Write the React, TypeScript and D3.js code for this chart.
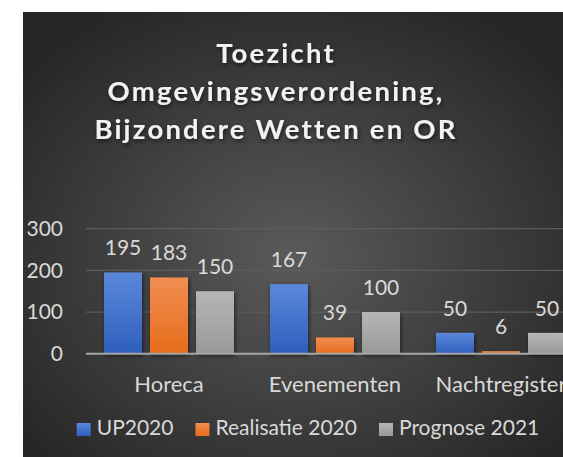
import React, { useEffect, useRef } from 'react';
import * as d3 from 'd3';

const categories = ['Horeca', 'Evenementen', 'Nachtregister'];
const series = ['UP2020', 'Realisatie 2020', 'Prognose 2021'];
const up2020 = [195, 167, 50];
const realisatie2020 = [183, 39, 6];
const prognose2021 = [150, 100, 50];
const yTicks = [0, 100, 200, 300];
const titleLines = ['Toezicht', 'Omgevingsverordening,', 'Bijzondere Wetten en OR'];

const colors = [
  ['#5b88da', '#2e5fbe'],
  ['#f28d52', '#e66d1b'],
  ['#b6b6b6', '#999999'],
];

const FONT = 'Lato, "Open Sans", sans-serif';

function App() {
  const ref = useRef<SVGSVGElement>(null);

  useEffect(() => {
    const svg = d3.select(ref.current);
    svg.selectAll('*').remove();
    const W = 563, H = 457;
    const values = [up2020, realisatie2020, prognose2021];

    const defs = svg.append('defs');
    const bg = defs.append('radialGradient').attr('id', 'bg')
      .attr('cx', '50%').attr('cy', '55%').attr('r', '65%');
    bg.append('stop').attr('offset', '0%').attr('stop-color', '#5a5a5a');
    bg.append('stop').attr('offset', '100%').attr('stop-color', '#262626');
    colors.forEach((c, i) => {
      const g = defs.append('linearGradient').attr('id', 'bar' + i)
        .attr('x1', 0).attr('y1', 0).attr('x2', 0).attr('y2', 1);
      g.append('stop').attr('offset', '0%').attr('stop-color', c[0]);
      g.append('stop').attr('offset', '100%').attr('stop-color', c[1]);
    });
    const sh = defs.append('filter').attr('id', 'shadow')
      .attr('x', '-20%').attr('y', '-20%').attr('width', '140%').attr('height', '140%');
    sh.append('feDropShadow').attr('dx', 1).attr('dy', 2).attr('stdDeviation', 2)
      .attr('flood-color', '#000').attr('flood-opacity', 0.6);

    svg.append('rect').attr('width', W).attr('height', H).attr('fill', '#ffffff');
    svg.append('rect').attr('x', 23).attr('y', 12).attr('width', W - 23).attr('height', H - 12)
      .attr('fill', 'url(#bg)');

    // title
    svg.append('g').selectAll('text').data(titleLines).join('text')
      .attr('x', 276)
      .attr('y', (d, i) => 63 + i * 38)
      .attr('text-anchor', 'middle')
      .attr('font-family', FONT)
      .attr('font-weight', 'bold')
      .attr('font-size', 27.5)
      .attr('letter-spacing', 2.2)
      .attr('fill', '#f2f2f2')
      .attr('filter', 'url(#shadow)')
      .text(d => d);

    const x = d3.scaleBand<string>().domain(categories).range([86, 584]).padding(0);
    const inner = d3.scaleBand<string>().domain(series)
      .range([18, x.bandwidth() - 18]).paddingInner(8 / 46).paddingOuter(0);
    const y = d3.scaleLinear().domain([0, 300]).range([353.7, 228.7]);

    // gridlines
    svg.append('g').selectAll('line').data(yTicks.filter(t => t > 0)).join('line')
      .attr('x1', 86).attr('x2', W)
      .attr('y1', d => y(d)).attr('y2', d => y(d))
      .attr('stroke', '#5c5c5c').attr('stroke-width', 1.3);

    // y axis labels
    const yAxis = svg.append('g').attr('transform', 'translate(63,0)')
      .call(d3.axisLeft(y).tickValues(yTicks).tickSize(0).tickPadding(0));
    yAxis.select('.domain').remove();
    yAxis.selectAll('text')
      .attr('font-family', FONT).attr('font-size', 21).attr('fill', '#d9d9d9');

    // bars
    series.forEach((s, si) => {
      const g = svg.append('g');
      g.selectAll('rect').data(values[si]).join('rect')
        .attr('x', (d, i) => x(categories[i])! + inner(s)!)
        .attr('y', d => y(d))
        .attr('width', inner.bandwidth())
        .attr('height', d => y(0) - y(d))
        .attr('fill', `url(#bar${si})`)
        .attr('filter', 'url(#shadow)');
      g.selectAll('text').data(values[si]).join('text')
        .attr('x', (d, i) => x(categories[i])! + inner(s)! + inner.bandwidth() / 2)
        .attr('y', d => y(d) - 17)
        .attr('text-anchor', 'middle')
        .attr('font-family', FONT).attr('font-size', 21).attr('fill', '#d9d9d9')
        .text(d => d);
    });

    // zero axis
    svg.append('line').attr('x1', 86).attr('x2', W)
      .attr('y1', y(0)).attr('y2', y(0))
      .attr('stroke', '#a6a6a6').attr('stroke-width', 2);

    // category labels
    const xAxis = svg.append('g').attr('transform', `translate(0,${y(0)})`)
      .call(d3.axisBottom(x).tickSize(0).tickPadding(0));
    xAxis.select('.domain').remove();
    xAxis.selectAll('text')
      .attr('dy', null).attr('y', 38.5)
      .attr('font-family', FONT).attr('font-size', 22).attr('fill', '#d9d9d9');

    // legend
    const legend = svg.append('g');
    let cx = 0;
    series.forEach((s, i) => {
      const item = legend.append('g').attr('transform', `translate(${cx},0)`);
      item.append('rect').attr('x', 0).attr('y', -12).attr('width', 14).attr('height', 13)
        .attr('fill', `url(#bar${i})`);
      const t = item.append('text').attr('x', 20).attr('y', 0)
        .attr('font-family', FONT).attr('font-size', 21).attr('fill', '#d9d9d9').text(s);
      const w = (t.node() as SVGTextElement).getComputedTextLength();
      cx += 20 + w + 22;
    });
    const total = cx - 22;
    legend.attr('transform', `translate(${308 - total / 2},435)`);
  }, []);

  return (
    <svg ref={ref} width={563} height={457} style={{ position: 'absolute', left: 0, top: 0 }} />
  );
}

export default App;
